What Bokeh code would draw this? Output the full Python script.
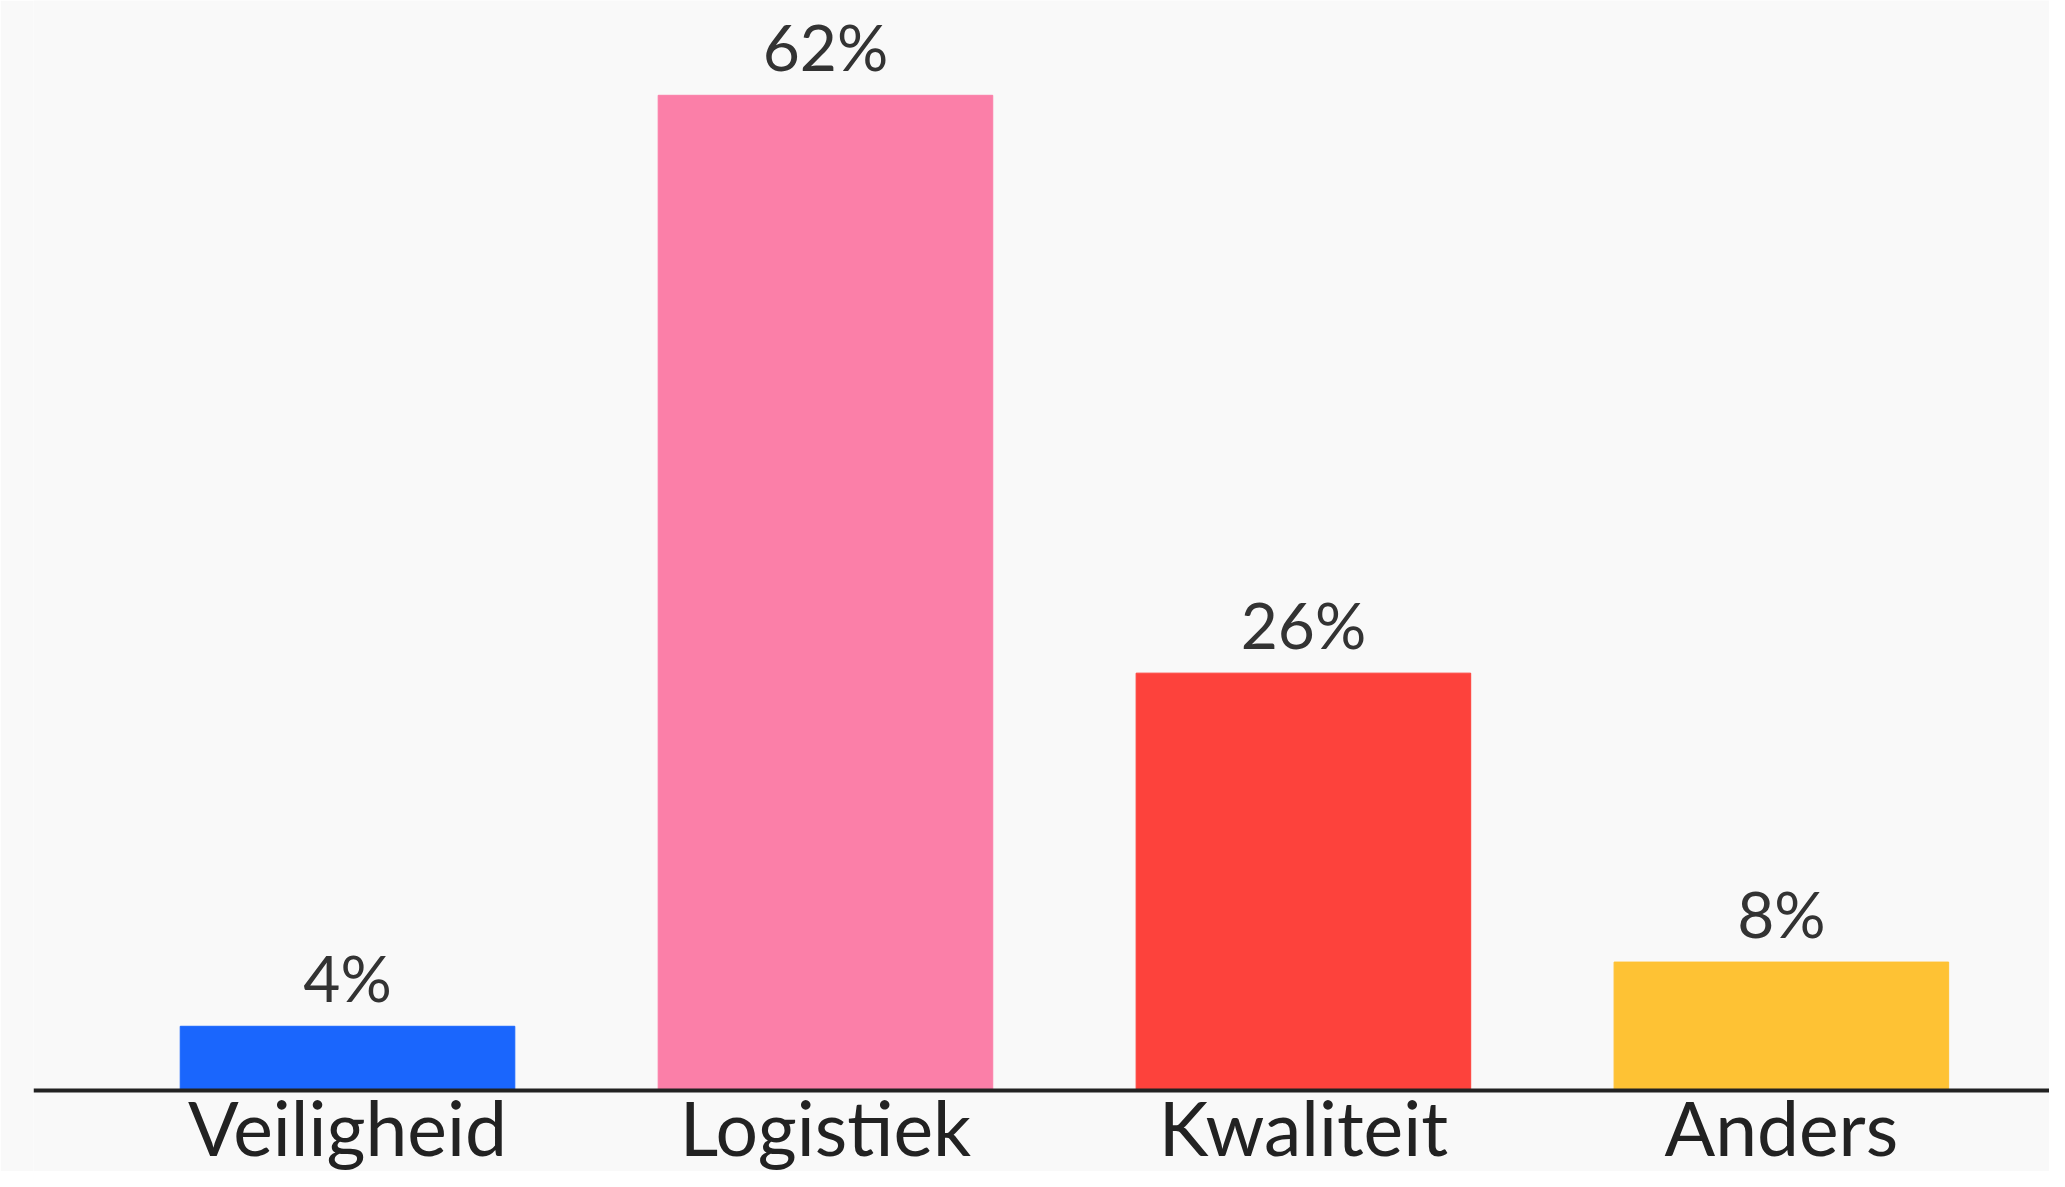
from bokeh.plotting import figure
from bokeh.models import ColumnDataSource, Range1d, LabelSet, Span
from bokeh.core.properties import value
from bokeh.embed import file_html
from bokeh.resources import INLINE

categories = ["Veiligheid", "Logistiek", "Kwaliteit", "Anders"]
values = [4, 62, 26, 8]
labels = ["4%", "62%", "26%", "8%"]
colors = ["#1a66fd", "#fb7fa8", "#fd423c", "#fec234"]

BG = "#f9f9f9"
FONT = "Lato"

xs = list(range(len(categories)))
src = ColumnDataSource(dict(x=xs, top=values, label=labels, color=colors,
                            cat=categories, zero=[0] * len(xs)))

p = figure(width=2049, height=1171, output_backend="svg", toolbar_location=None,
           x_range=Range1d(-0.657, 3.561), y_range=Range1d(-5.047, 67.906),
           min_border_left=33, min_border_right=0, min_border_top=0, min_border_bottom=0)
p.background_fill_color = BG
p.border_fill_color = BG
p.outline_line_color = None
p.xgrid.visible = False
p.ygrid.visible = False
p.xaxis.visible = False
p.yaxis.visible = False

p.vbar(x="x", top="top", bottom=0, width=0.7, color="color", source=src)

baseline = Span(location=0, dimension="width", line_color="#222222", line_width=4)
p.add_layout(baseline)

pct = LabelSet(x="x", y="top", text="label", source=src, text_align="center",
               text_baseline="alphabetic", y_offset=24, text_font=value(FONT),
               text_font_size="64px", text_color="#333333")
p.add_layout(pct)

cat = LabelSet(x="x", y="zero", text="cat", source=src, text_align="center",
               text_baseline="alphabetic", y_offset=-66, text_font=value(FONT),
               text_font_size="75px", text_color="#222222")
p.add_layout(cat)

open("out.html", "w").write(file_html(p, INLINE))
